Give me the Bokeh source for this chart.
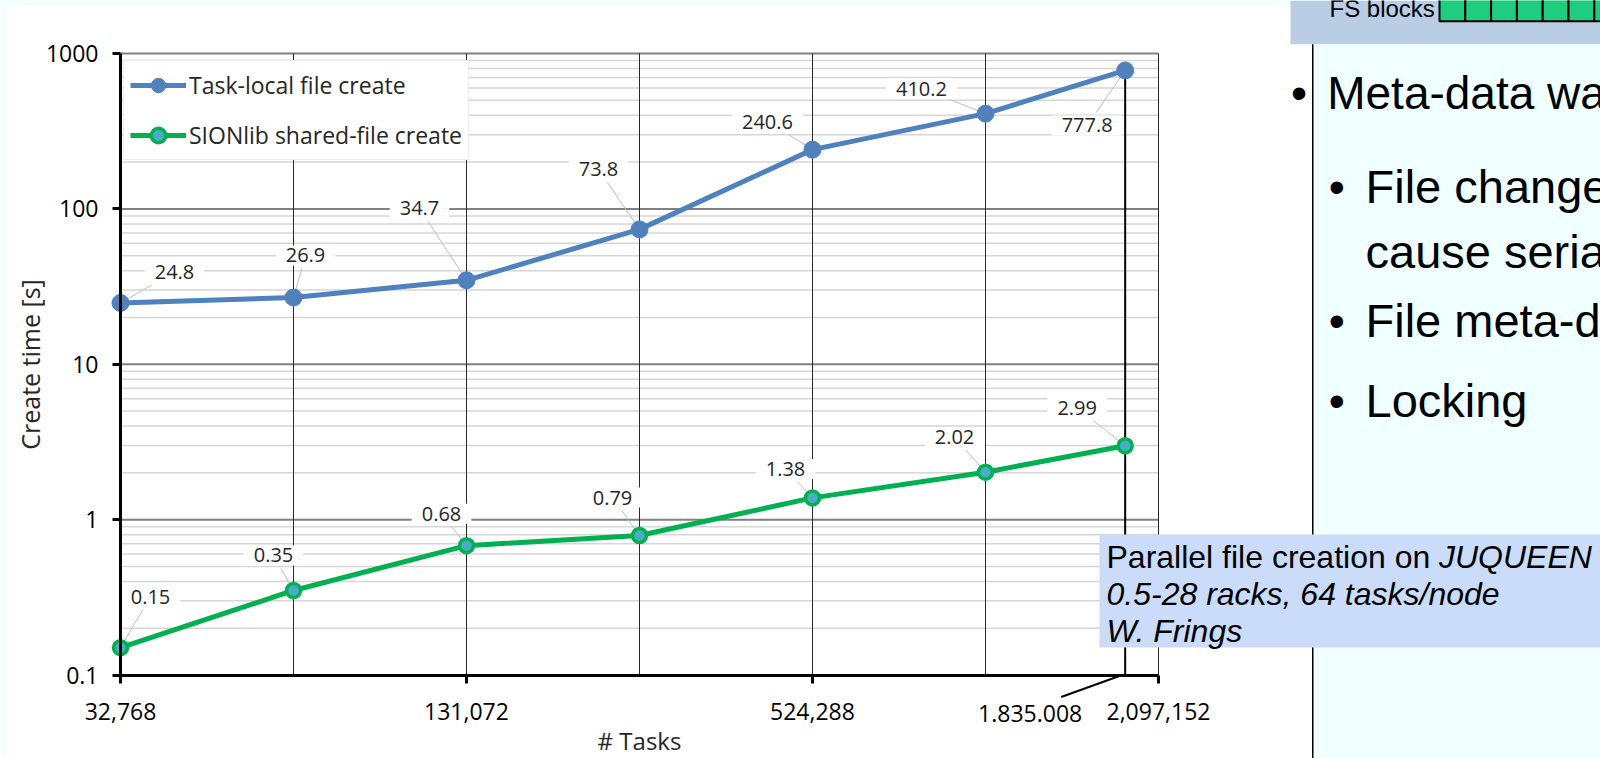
import math
from bokeh.plotting import figure
from bokeh.models import (Range1d, FixedTicker, CustomJSTickFormatter, Label, BoxAnnotation)
from bokeh.core.properties import value
from bokeh.embed import file_html
from bokeh.resources import INLINE

# ---------------- data ----------------
tasks = [32768, 65536, 131072, 262144, 524288, 1048576, 1835008]
task_local = [24.8, 26.9, 34.7, 73.8, 240.6, 410.2, 777.8]
sionlib = [0.15, 0.35, 0.68, 0.79, 1.38, 2.02, 2.99]
x_ticks = [32768, 131072, 524288, 2097152]
x_minor = [65536, 262144, 1048576]
y_ticks = [0.1, 1, 10, 100, 1000]
series_names = ["Task-local file create", "SIONlib shared-file create"]
x_title = "# Tasks"
y_title = "Create time [s]"
marked_task = 1835008
marked_label = "1.835.008"

bullet_main = "Meta-data wa"
bullet_subs = ["File change", "cause seria", "File meta-d", "Locking"]
note_line1 = "Parallel file creation on "
note_line1_it = "JUQUEEN"
note_line2 = "0.5-28 racks, 64 tasks/node"
note_line3 = "W. Frings"
header_text = "FS blocks"

# ---------------- layout / style ----------------
W, H = 1600, 758
FL, FR, FT, FB = 120, 1158, 53, 674.5          # chart area in canvas px
px_dec_x = (FR - FL) / math.log10(x_ticks[-1] / x_ticks[0])
px_dec_y = (FB - FT) / math.log10(y_ticks[-1] / y_ticks[0])
x_lo = 10 ** (math.log10(x_ticks[0]) - FL / px_dec_x)
x_hi = 10 ** (math.log10(x_ticks[-1]) + (W - FR) / px_dec_x)
y_lo = 10 ** (math.log10(y_ticks[0]) - (H - FB) / px_dec_y)
y_hi = 10 ** (math.log10(y_ticks[-1]) + FT / px_dec_y)

BLUE = "#4F81BD"
GREEN = "#00B050"
TEAL = "#4BACC6"
CYAN = "#F0FFFF"
HEADER = "#B9CDE5"
NOTE = "#CADCFA"
SQ = "#1ECD80"
TXT = "#262626"
FONT = "Open Sans"
SLIDE_FONT = "Liberation Sans"
BASE_FIX = 0.31   # label baseline correction, in em

# data label offsets in screen px (x right, y down)
off_blue = [(54, -31), (12, -42), (-47, -72), (-41, -60), (-45, -28), (-64, -25), (-38, 55)]
off_green = [(30, -51), (-20, -35), (-25, -32), (-27, -38), (-27, -29), (-31, -35), (-48, -38)]

p = figure(width=W, height=H, x_axis_type="log", y_axis_type="log",
           x_range=Range1d(x_lo, x_hi), y_range=Range1d(y_lo, y_hi),
           output_backend="svg", toolbar_location=None,
           min_border=0, min_border_left=0, min_border_right=0,
           min_border_top=0, min_border_bottom=0)
p.background_fill_color = "white"
p.border_fill_color = "white"
p.outline_line_color = None
p.grid.visible = False

y_minor = [m * t for t in y_ticks[:-1] for m in range(2, 10)]
xa, ya = p.xaxis[0], p.yaxis[0]
xa.fixed_location = y_ticks[0]
ya.fixed_location = x_ticks[0]
xa.bounds = (x_ticks[0], x_ticks[-1])
ya.bounds = (y_ticks[0], y_ticks[-1])
xa.ticker = FixedTicker(ticks=x_ticks, minor_ticks=x_minor)
ya.ticker = FixedTicker(ticks=y_ticks, minor_ticks=y_minor)
xa.formatter = CustomJSTickFormatter(code="return Math.round(tick).toString().replace(/\\B(?=(\\d{3})+(?!\\d))/g, ',')")
ya.formatter = CustomJSTickFormatter(code="return tick.toString()")
for ax in (xa, ya):
    ax.axis_line_color = "black"
    ax.axis_line_width = 3
    ax.major_tick_line_color = "black"
    ax.major_tick_line_width = 3
    ax.major_tick_out = 8
    ax.major_tick_in = 0
    ax.minor_tick_line_color = None
    ax.major_label_text_font = FONT
    ax.major_label_text_font_size = "23px"
    ax.major_label_text_color = "black"
    ax.axis_label_text_font = FONT
    ax.axis_label_text_font_style = "normal"
    ax.axis_label_text_color = TXT
xa.axis_label = x_title
ya.axis_label = y_title
xa.axis_label_text_font_size = "24px"
ya.axis_label_text_font_size = "25px"
xa.major_label_standoff = 20
ya.major_label_standoff = 14
xa.axis_label_standoff = 0
ya.axis_label_standoff = -4

# grid lines of the chart area
p.segment(x0=x_ticks[0], x1=x_ticks[-1], y0=y_minor, y1=y_minor, line_color="#D6D6D6", line_width=1.5)
p.segment(x0=x_ticks[0], x1=x_ticks[-1], y0=y_ticks[1:], y1=y_ticks[1:], line_color="#808080", line_width=2)
vx = sorted(x_ticks[1:] + x_minor)
p.segment(x0=vx, x1=vx, y0=y_ticks[0], y1=y_ticks[-1], line_color="#2a2a2a", line_width=1)

# marked task vertical line
p.segment(x0=[marked_task], y0=[y_ticks[0]], x1=[marked_task], y1=[task_local[-1]],
          line_color="black", line_width=2)

# leader lines + data labels
def leaders(xs, ys, offs, hw=28, hh=13):
    x0, y0, x1, y1 = [], [], [], []
    for x, y, (dx, dy) in zip(xs, ys, offs):
        t = min(hw / abs(dx) if dx else 1e9, hh / abs(dy) if dy else 1e9)
        ex, ey = dx * (1 - t), dy * (1 - t)
        x0.append(x); y0.append(y)
        x1.append(x * 10 ** (ex / px_dec_x)); y1.append(y * 10 ** (-ey / px_dec_y))
    return x0, y0, x1, y1

for ys, offs in ((task_local, off_blue), (sionlib, off_green)):
    a, b, c, d = leaders(tasks, ys, offs)
    p.segment(x0=a, y0=b, x1=c, y1=d, line_color="#BFBFBF", line_width=1)

# series
p.line(tasks, task_local, line_color=BLUE, line_width=5, legend_label=series_names[0])
p.scatter(tasks, task_local, size=17, fill_color=BLUE, line_color=BLUE, legend_label=series_names[0])
p.line(tasks, sionlib, line_color=GREEN, line_width=5, legend_label=series_names[1])
p.scatter(tasks, sionlib, size=14, fill_color=TEAL, line_color=GREEN, line_width=3.5,
          legend_label=series_names[1])

for ys, offs in ((task_local, off_blue), (sionlib, off_green)):
    p.text(x=tasks, y=ys, text=[str(v) for v in ys],
           x_offset=[o[0] for o in offs], y_offset=[o[1] for o in offs],
           text_align="center", text_baseline="middle",
           text_font=value(FONT), text_font_size=value("20px"), text_color=TXT,
           background_fill_color="white", padding=(10, 3))

# legend
lg = p.legend[0]
lg.location = (123, H - 62 - 98)
lg.margin = 0
lg.padding = 6
lg.spacing = 14
lg.glyph_width = 56
lg.glyph_height = 36
lg.label_height = 36
lg.label_standoff = 3
lg.label_text_font = FONT
lg.label_text_font_size = "23px"
lg.label_text_color = TXT
lg.border_line_color = "#D9D9D9"
lg.border_line_width = 1
lg.background_fill_alpha = 1

# marked task annotation below the axis
p.segment(x0=[marked_task * 10 ** (-64 / px_dec_x)], y0=[y_ticks[0] * 10 ** (-22 / px_dec_y)],
          x1=[marked_task * 10 ** (-3 / px_dec_x)], y1=[y_ticks[0]],
          line_color="black", line_width=2)
p.text(x=[marked_task], y=[y_ticks[0]], text=[marked_label], x_offset=-95, y_offset=38,
       text_align="center", text_baseline="middle", text_font=value(FONT),
       text_font_size=value("23px"), text_color="black")

# ---------------- slide decorations (canvas px) ----------------
def box(l, r, t, b, color, line=None, lw=0):
    p.add_layout(BoxAnnotation(left=l, right=r, top=t, bottom=b,
                               left_units="canvas", right_units="canvas",
                               top_units="canvas", bottom_units="canvas",
                               fill_color=color, fill_alpha=1,
                               line_color=line, line_width=lw, line_alpha=1))

def label(x, y, text, size, style="normal", font=SLIDE_FONT):
    fs = float(size.replace("px", ""))
    p.add_layout(Label(x=x, y=y - BASE_FIX * fs, x_units="canvas", y_units="canvas", text=text,
                       text_font=font, text_font_size=size, text_font_style=style,
                       text_align="left", text_baseline="alphabetic", text_color="black"))

box(0, 1290, 0, 5, CYAN)
box(0, 5, 0, H, CYAN)
box(1290, W, 0, 43.7, HEADER)
box(1313, W, 43.7, H, CYAN)
box(1311.5, 1313, 43.7, H, "black")
for k in range(7):
    box(1439 + k * 25.8, 1439 + (k + 1) * 25.8, -6, 20.7, SQ, "black", 2)
label(1329, 15, header_text, "24px")

label(1290.6, 107, "•", "46px")
label(1326.7, 107, bullet_main, "46px")
sub_base = [201, 266, 335, 415]
for i, (txt, yb) in enumerate(zip(bullet_subs, sub_base)):
    if i != 1:
        label(1328.3, yb, "•", "46px")
    label(1365, yb, txt, "47px")

box(1099, W, 534, 647, NOTE)
label(1106, 566, note_line1, "32px")
label(1438.5, 566, note_line1_it, "32px", "italic")
label(1106, 603, note_line2, "32px", "italic")
label(1106, 640, note_line3, "32px", "italic")

open("out.html", "w").write(file_html(p, INLINE))
